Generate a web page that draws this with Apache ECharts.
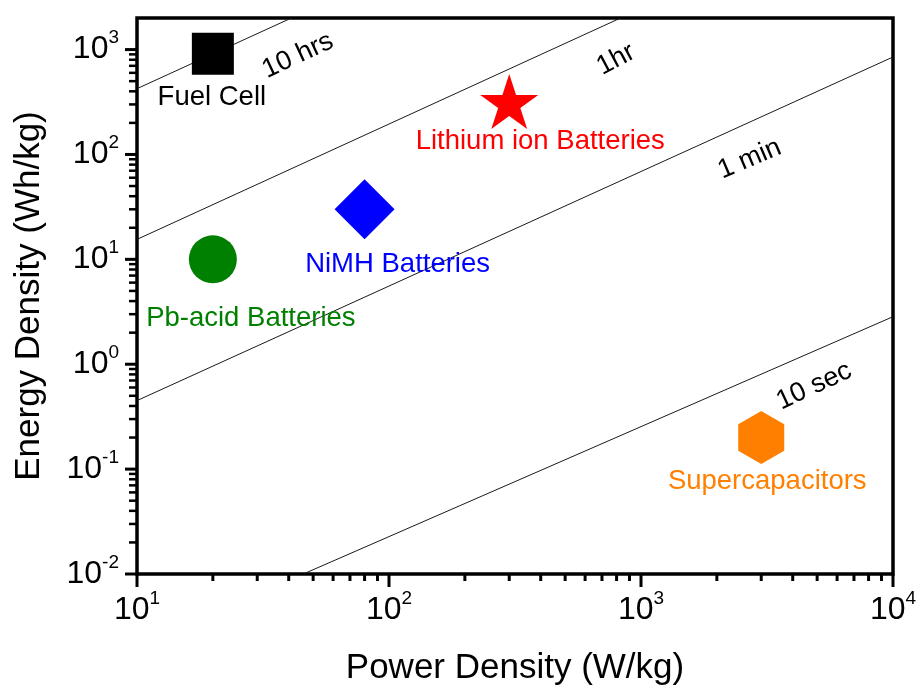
<!DOCTYPE html>
<html>
<head>
<meta charset="utf-8">
<script src="https://cdn.jsdelivr.net/npm/echarts@6/dist/echarts.min.js"></script>
<style>
  html, body { margin: 0; padding: 0; background: #ffffff; }
  #chart { width: 920px; height: 691px; }
</style>
</head>
<body>
<div id="chart"></div>
<script>
// Ragone plot: energy density vs power density for storage technologies
const technologies = ['Fuel Cell', 'Lithium ion Batteries', 'NiMH Batteries', 'Pb-acid Batteries', 'Supercapacitors'];
const powerDensity = [20, 300, 80, 20, 3000];      // W/kg
const energyDensity = [910, 300, 30, 10, 0.2];     // Wh/kg

// Constant discharge-time guide lines (power, energy) end points
const timeLineNames = ['10 hrs', '1hr', '1 min', '10 sec'];
const tenHrsLine = [[10, 424], [41, 2000]];
const oneHrLine = [[10, 15.5], [830, 2000]];
const oneMinLine = [[10, 0.45], [10000, 850]];
const tenSecLine = [[45.7, 0.01], [10000, 2.84]];
const timeLabelPower = [43.5, 796, 2698, 4865];
const timeLabelEnergy = [877, 804, 90.3, 0.618];

// Axis ranges and decade ticks
const xRange = [10, 10000];
const yRange = [0.01, 2000];
const xDecades = [1, 2, 3];
const yDecades = [-2, -1, 0, 1, 2];

const FONT = '"Liberation Sans", Arial, Helvetica, sans-serif';

const markerStyle = {
  'Fuel Cell':             { symbol: 'rect', size: 42, color: '#000000', offset: [-1, 44] },
  'Lithium ion Batteries': { symbol: 'path://M0,-100L22.45,-30.9L95.1,-30.9L36.33,11.8L58.8,80.9L0,38.2L-58.8,80.9L-36.33,11.8L-95.1,-30.9L-22.45,-30.9Z',
                             size: [58, 55], symbolOffset: [0, -3], color: '#ff0000', offset: [31, 40] },
  'NiMH Batteries':        { symbol: 'diamond', size: 60, color: '#0000ff', offset: [33, 55] },
  'Pb-acid Batteries':     { symbol: 'circle', size: 48, color: '#008000', offset: [38, 59] },
  'Supercapacitors':       { symbol: 'path://M0,-100L86.6,-50L86.6,50L0,100L-86.6,50L-86.6,-50Z',
                             size: [46, 53], color: '#ff8000', offset: [6, 44] }
};
const timeLabelRotate = [25, 28, 23, 25];

// Tick values: 1..9 × 10^d inside each decade, majors at powers of ten
function decadeTicks(decades, lastMajor) {
  const out = [];
  decades.forEach(d => {
    for (let m = 1; m <= 9; m++) out.push({ v: m * Math.pow(10, d), major: m === 1 });
  });
  out.push({ v: lastMajor, major: true });
  return out;
}
const xTicks = decadeTicks(xDecades, 10000);
const yTicks = decadeTicks(yDecades, 1000);

function powerLabel(v) {
  const e = Math.log10(v);
  const r = Math.round(e);
  if (Math.abs(e - r) > 1e-6) return '';
  return '{b|10}{s|' + r + '}';
}
const labelRich = {
  b: { fontSize: 32, lineHeight: 42, fontFamily: FONT, color: '#000' },
  s: { fontSize: 19, lineHeight: 19, verticalAlign: 'top', fontFamily: FONT, color: '#000' }
};

const chart = echarts.init(document.getElementById('chart'), null, { renderer: 'canvas' });

const guideSeries = [tenHrsLine, oneHrLine, oneMinLine, tenSecLine].map((pts, i) => ({
  name: timeLineNames[i],
  type: 'line',
  data: pts,
  symbol: 'none',
  silent: true,
  clip: true,
  lineStyle: { color: '#1a1a1a', width: 1 },
  z: 2
}));

const option = {
  animation: false,
  backgroundColor: '#ffffff',
  grid: {
    left: 137, right: 27, top: 18, bottom: 114,
    show: true, borderColor: '#000', borderWidth: 3.5, backgroundColor: 'transparent'
  },
  xAxis: {
    type: 'log', logBase: 10, min: xRange[0], max: xRange[1],
    name: 'Power Density (W/kg)', nameLocation: 'middle', nameGap: 77,
    nameTextStyle: { fontSize: 35, fontFamily: FONT, color: '#000' },
    axisLine: { show: false }, axisTick: { show: false }, splitLine: { show: false },
    axisLabel: { margin: 15, formatter: powerLabel, rich: labelRich }
  },
  yAxis: {
    type: 'log', logBase: 10, min: yRange[0], max: yRange[1],
    name: 'Energy Density (Wh/kg)', nameLocation: 'middle', nameGap: 90,
    nameTextStyle: { fontSize: 35, fontFamily: FONT, color: '#000' },
    axisLine: { show: false }, axisTick: { show: false }, splitLine: { show: false },
    axisLabel: { margin: 18, formatter: powerLabel, rich: labelRich }
  },
  series: [
    // outward ticks on the left and bottom axes
    {
      type: 'custom',
      silent: true,
      clip: false,
      z: 10,
      data: [[xRange[0], yRange[0]]],
      renderItem: function (params, api) {
        const children = [];
        const origin = api.coord([xRange[0], yRange[0]]);
        yTicks.forEach(t => {
          const y = api.coord([xRange[0], t.v])[1];
          const len = t.major ? 12 : 8;
          children.push({ type: 'line', shape: { x1: origin[0] - len, y1: y, x2: origin[0], y2: y },
                          style: { stroke: '#000', lineWidth: t.major ? 3 : 2.5 } });
        });
        xTicks.forEach(t => {
          const x = api.coord([t.v, yRange[0]])[0];
          const len = t.major ? 13 : 7;
          children.push({ type: 'line', shape: { x1: x, y1: origin[1], x2: x, y2: origin[1] + len },
                          style: { stroke: '#000', lineWidth: 3 } });
        });
        return { type: 'group', children: children };
      }
    },
    ...guideSeries,
    // labels of the guide lines
    {
      type: 'scatter',
      silent: true,
      symbolSize: 0,
      itemStyle: { color: '#000', opacity: 0 },
      z: 3,
      data: timeLineNames.map((n, i) => ({
        name: n,
        value: [timeLabelPower[i], timeLabelEnergy[i]],
        label: { rotate: timeLabelRotate[i] }
      })),
      label: {
        show: true, position: 'inside', formatter: '{b}',
        fontSize: 27, fontFamily: FONT, color: '#000',
        textBorderWidth: 0, opacity: 1
      }
    },
    // technologies
    {
      type: 'scatter',
      silent: true,
      z: 5,
      data: technologies.map((n, i) => {
        const s = markerStyle[n];
        return {
          name: n,
          value: [powerDensity[i], energyDensity[i]],
          symbol: s.symbol,
          symbolSize: s.size,
          symbolOffset: s.symbolOffset || [0, 0],
          itemStyle: { color: s.color, opacity: 1 },
          label: { color: s.color, offset: s.offset }
        };
      }),
      label: {
        show: true, position: 'inside', formatter: '{b}',
        fontSize: 27.5, fontFamily: FONT, textBorderWidth: 0
      }
    }
  ]
};

chart.setOption(option);
</script>
</body>
</html>
